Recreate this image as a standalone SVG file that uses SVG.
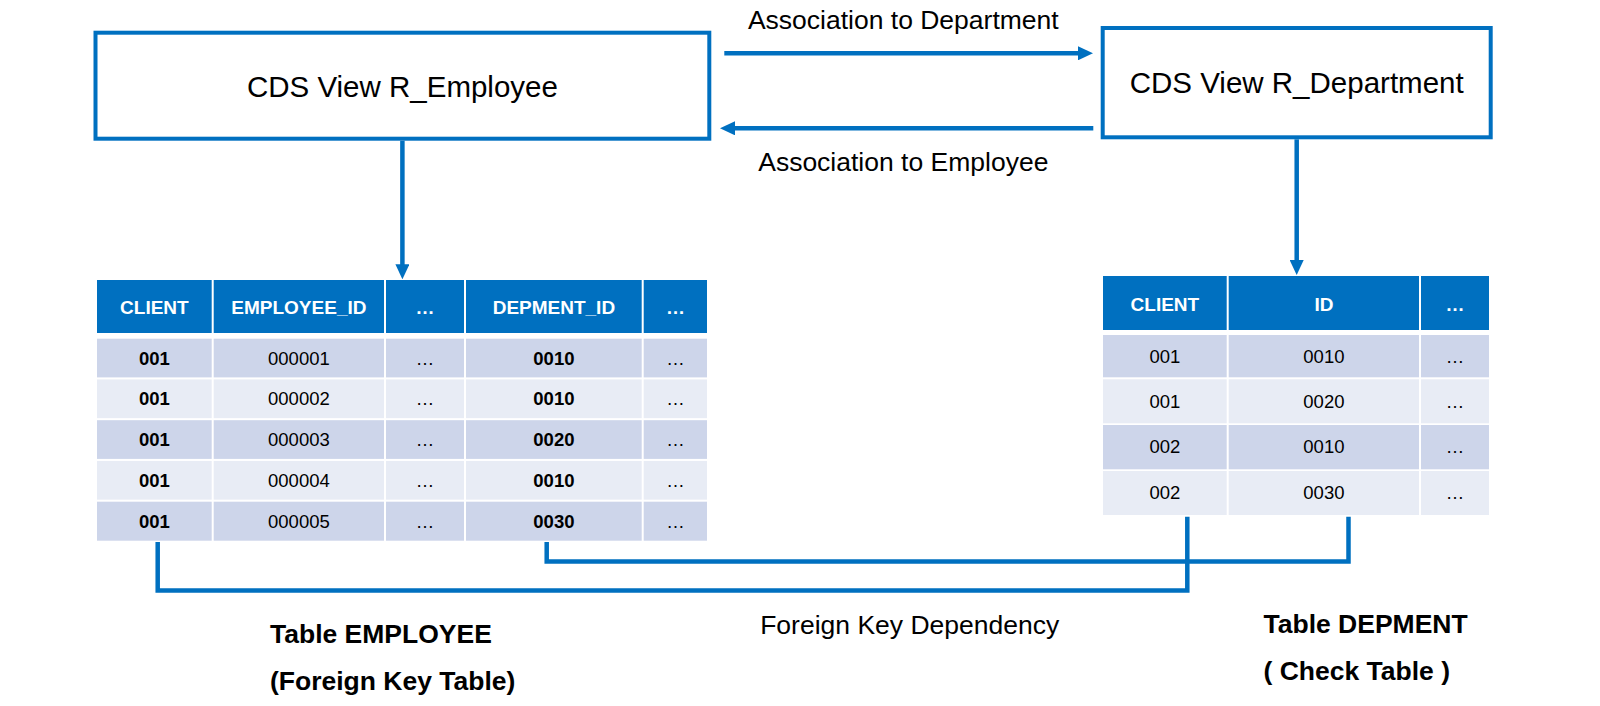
<svg xmlns="http://www.w3.org/2000/svg" width="1600" height="706" viewBox="0 0 1600 706">
<style>
  text { font-family: "Liberation Sans", Arial, sans-serif; fill: #000; }
  .box { fill: #fff; stroke: #0070C0; stroke-width: 4; }
  .boxt { font-size: 29.5px; text-anchor: middle; }
  .lbl { font-size: 26.5px; }
  .mid { text-anchor: middle; }
  .blbl { font-size: 26.5px; font-weight: bold; }
  .hd { fill: #0070C0; }
  .dk { fill: #CDD5EA; }
  .lt { fill: #E8ECF5; }
  .ht { font-size: 19px; font-weight: bold; fill: #fff; text-anchor: middle; }
  .ct { font-size: 18.5px; text-anchor: middle; }
  .b { font-weight: bold; }
  .conn { fill: none; stroke: #0070C0; stroke-width: 4.5; stroke-linejoin: miter; stroke-linecap: butt; }
</style>
<defs>
  <marker id="arr" markerUnits="userSpaceOnUse" markerWidth="15" markerHeight="14" refX="4" refY="7" orient="auto">
    <path d="M0,0 L15,7 L0,14 Z" fill="#0070C0"/>
  </marker>
</defs>
<rect width="1600" height="706" fill="#fff"/>

<g id="view-employee">
  <rect class="box" x="95.5" y="32.7" width="613.8" height="106"/>
  <text class="boxt" x="402.4" y="97.3">CDS View R_Employee</text>
</g>

<g id="view-department">
  <rect class="box" x="1102.7" y="28" width="388" height="109.3"/>
  <text class="boxt" x="1296.7" y="92.7">CDS View R_Department</text>
</g>

<g id="connectors">
  <line class="conn" x1="724.3" y1="53.3" x2="1082" y2="53.3" marker-end="url(#arr)"/>
  <line class="conn" x1="1093.3" y1="128.3" x2="731" y2="128.3" marker-end="url(#arr)"/>
  <line class="conn" x1="402.4" y1="140.7" x2="402.4" y2="268.3" marker-end="url(#arr)"/>
  <line class="conn" x1="1296.7" y1="139.3" x2="1296.7" y2="264" marker-end="url(#arr)"/>
  <polyline class="conn" points="157.7,542 157.7,590.5 1187.3,590.5 1187.3,516.7"/>
  <polyline class="conn" points="546.7,542 546.7,561.5 1348.5,561.5 1348.5,516.7"/>
</g>

<g id="label-assoc-dept"><text class="lbl mid" x="903.3" y="29.3">Association to Department</text></g>
<g id="label-assoc-emp"><text class="lbl mid" x="903.3" y="170.7">Association to Employee</text></g>
<g id="label-fk"><text class="lbl mid" x="909.7" y="634.3">Foreign Key Dependency</text></g>

<g id="table-employee">
  <rect class="hd" x="97" y="280" width="114.7" height="53"/>
  <rect class="hd" x="213.7" y="280" width="170.3" height="53"/>
  <rect class="hd" x="386" y="280" width="78" height="53"/>
  <rect class="hd" x="466" y="280" width="175.7" height="53"/>
  <rect class="hd" x="643.7" y="280" width="63.3" height="53"/>
  <text class="ht" x="154.4" y="314">CLIENT</text>
  <text class="ht" x="298.9" y="314">EMPLOYEE_ID</text>
  <text class="ht" x="425" y="314">…</text>
  <text class="ht" x="553.9" y="314">DEPMENT_ID</text>
  <text class="ht" x="675.4" y="314">…</text>

  <g id="emp-row1">
    <rect class="dk" x="97" y="338.7" width="114.7" height="38.7"/>
    <rect class="dk" x="213.7" y="338.7" width="170.3" height="38.7"/>
    <rect class="dk" x="386" y="338.7" width="78" height="38.7"/>
    <rect class="dk" x="466" y="338.7" width="175.7" height="38.7"/>
    <rect class="dk" x="643.7" y="338.7" width="63.3" height="38.7"/>
    <text class="ct b" x="154.4" y="364.5">001</text>
    <text class="ct" x="298.9" y="364.5">000001</text>
    <text class="ct" x="425" y="364.5">…</text>
    <text class="ct b" x="553.9" y="364.5">0010</text>
    <text class="ct" x="675.4" y="364.5">…</text>
  </g>
  <g id="emp-row2">
    <rect class="lt" x="97" y="379.45" width="114.7" height="38.7"/>
    <rect class="lt" x="213.7" y="379.45" width="170.3" height="38.7"/>
    <rect class="lt" x="386" y="379.45" width="78" height="38.7"/>
    <rect class="lt" x="466" y="379.45" width="175.7" height="38.7"/>
    <rect class="lt" x="643.7" y="379.45" width="63.3" height="38.7"/>
    <text class="ct b" x="154.4" y="405.2">001</text>
    <text class="ct" x="298.9" y="405.2">000002</text>
    <text class="ct" x="425" y="405.2">…</text>
    <text class="ct b" x="553.9" y="405.2">0010</text>
    <text class="ct" x="675.4" y="405.2">…</text>
  </g>
  <g id="emp-row3">
    <rect class="dk" x="97" y="420.2" width="114.7" height="38.7"/>
    <rect class="dk" x="213.7" y="420.2" width="170.3" height="38.7"/>
    <rect class="dk" x="386" y="420.2" width="78" height="38.7"/>
    <rect class="dk" x="466" y="420.2" width="175.7" height="38.7"/>
    <rect class="dk" x="643.7" y="420.2" width="63.3" height="38.7"/>
    <text class="ct b" x="154.4" y="446">001</text>
    <text class="ct" x="298.9" y="446">000003</text>
    <text class="ct" x="425" y="446">…</text>
    <text class="ct b" x="553.9" y="446">0020</text>
    <text class="ct" x="675.4" y="446">…</text>
  </g>
  <g id="emp-row4">
    <rect class="lt" x="97" y="460.95" width="114.7" height="38.7"/>
    <rect class="lt" x="213.7" y="460.95" width="170.3" height="38.7"/>
    <rect class="lt" x="386" y="460.95" width="78" height="38.7"/>
    <rect class="lt" x="466" y="460.95" width="175.7" height="38.7"/>
    <rect class="lt" x="643.7" y="460.95" width="63.3" height="38.7"/>
    <text class="ct b" x="154.4" y="486.7">001</text>
    <text class="ct" x="298.9" y="486.7">000004</text>
    <text class="ct" x="425" y="486.7">…</text>
    <text class="ct b" x="553.9" y="486.7">0010</text>
    <text class="ct" x="675.4" y="486.7">…</text>
  </g>
  <g id="emp-row5">
    <rect class="dk" x="97" y="501.7" width="114.7" height="39"/>
    <rect class="dk" x="213.7" y="501.7" width="170.3" height="39"/>
    <rect class="dk" x="386" y="501.7" width="78" height="39"/>
    <rect class="dk" x="466" y="501.7" width="175.7" height="39"/>
    <rect class="dk" x="643.7" y="501.7" width="63.3" height="39"/>
    <text class="ct b" x="154.4" y="527.6">001</text>
    <text class="ct" x="298.9" y="527.6">000005</text>
    <text class="ct" x="425" y="527.6">…</text>
    <text class="ct b" x="553.9" y="527.6">0030</text>
    <text class="ct" x="675.4" y="527.6">…</text>
  </g>
</g>

<g id="table-department">
  <rect class="hd" x="1103" y="276" width="123.7" height="54"/>
  <rect class="hd" x="1228.7" y="276" width="190.3" height="54"/>
  <rect class="hd" x="1421" y="276" width="68" height="54"/>
  <text class="ht" x="1164.9" y="310.5">CLIENT</text>
  <text class="ht" x="1323.9" y="310.5">ID</text>
  <text class="ht" x="1455" y="310.5">…</text>

  <g id="dep-row1">
    <rect class="dk" x="1103" y="335" width="123.7" height="42.3"/>
    <rect class="dk" x="1228.7" y="335" width="190.3" height="42.3"/>
    <rect class="dk" x="1421" y="335" width="68" height="42.3"/>
    <text class="ct" x="1164.9" y="362.5">001</text>
    <text class="ct" x="1323.9" y="362.5">0010</text>
    <text class="ct" x="1455" y="362.5">…</text>
  </g>
  <g id="dep-row2">
    <rect class="lt" x="1103" y="379.3" width="123.7" height="44"/>
    <rect class="lt" x="1228.7" y="379.3" width="190.3" height="44"/>
    <rect class="lt" x="1421" y="379.3" width="68" height="44"/>
    <text class="ct" x="1164.9" y="407.5">001</text>
    <text class="ct" x="1323.9" y="407.5">0020</text>
    <text class="ct" x="1455" y="407.5">…</text>
  </g>
  <g id="dep-row3">
    <rect class="dk" x="1103" y="425" width="123.7" height="44.3"/>
    <rect class="dk" x="1228.7" y="425" width="190.3" height="44.3"/>
    <rect class="dk" x="1421" y="425" width="68" height="44.3"/>
    <text class="ct" x="1164.9" y="453">002</text>
    <text class="ct" x="1323.9" y="453">0010</text>
    <text class="ct" x="1455" y="453">…</text>
  </g>
  <g id="dep-row4">
    <rect class="lt" x="1103" y="471" width="123.7" height="44"/>
    <rect class="lt" x="1228.7" y="471" width="190.3" height="44"/>
    <rect class="lt" x="1421" y="471" width="68" height="44"/>
    <text class="ct" x="1164.9" y="498.5">002</text>
    <text class="ct" x="1323.9" y="498.5">0030</text>
    <text class="ct" x="1455" y="498.5">…</text>
  </g>
</g>

<g id="label-table-employee">
  <text class="blbl" x="270" y="642.7">Table EMPLOYEE</text>
  <text class="blbl" x="270" y="690">(Foreign Key Table)</text>
</g>
<g id="label-table-department">
  <text class="blbl" x="1263.5" y="633.3">Table DEPMENT</text>
  <text class="blbl" x="1263.5" y="680">( Check Table )</text>
</g>
</svg>
